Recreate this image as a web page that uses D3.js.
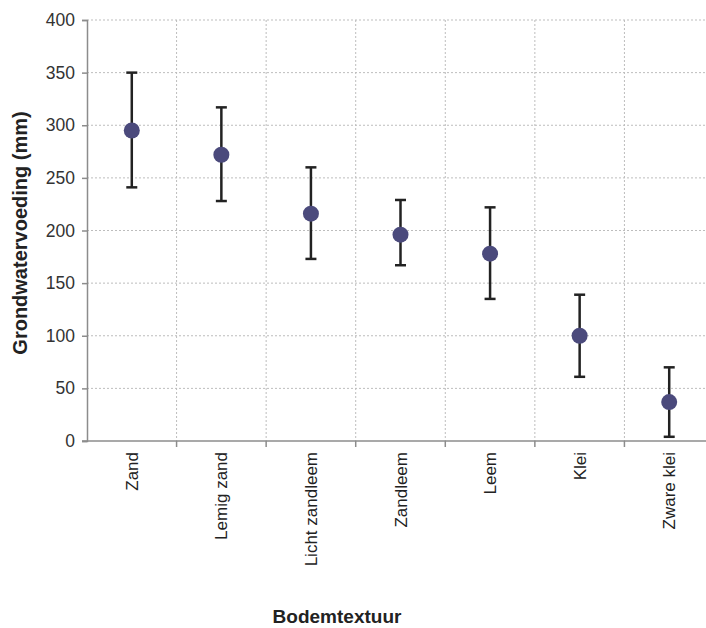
<!DOCTYPE html>
<html>
<head>
<meta charset="utf-8">
<script src="https://cdn.jsdelivr.net/npm/d3@7"></script>
<style>
html,body{margin:0;padding:0;background:#fff;}
svg{display:block;font-family:"Liberation Sans",Arial,sans-serif;}
</style>
</head>
<body>
<svg id="chart" width="706" height="628"></svg>
<script>
const categories = ["Zand","Lemig zand","Licht zandleem","Zandleem","Leem","Klei","Zware klei"];
const means = [295, 272, 216, 196, 178, 100, 37];
const upper = [350, 317, 260, 229, 222, 139, 70];
const lower = [241, 228, 173, 167, 135, 61, 4];
const yTicks = [0, 50, 100, 150, 200, 250, 300, 350, 400];

(function () {
const svg = d3.select("#chart");
const mLeft = 87, mRight = 714, mTop = 20, mBottom = 441;

const x = d3.scaleBand().domain(categories).range([mLeft, mRight]).padding(0);
const y = d3.scaleLinear().domain([0, 400]).range([mBottom, mTop]);

// horizontal grid
svg.append("g").selectAll("line").data(yTicks.filter(d => d > 0)).join("line")
  .attr("x1", mLeft).attr("x2", 706)
  .attr("y1", d => y(d)).attr("y2", d => y(d))
  .attr("stroke", "#bdbdbd").attr("stroke-width", 1).attr("stroke-dasharray", "2,2");

// vertical grid at band boundaries
const bounds = categories.slice(1).map(c => x(c));
svg.append("g").selectAll("line").data(bounds).join("line")
  .attr("x1", d => d).attr("x2", d => d)
  .attr("y1", mTop).attr("y2", mBottom)
  .attr("stroke", "#bdbdbd").attr("stroke-width", 1).attr("stroke-dasharray", "2,2");

// y axis
const yAxis = svg.append("g").attr("transform", `translate(${mLeft},0)`)
  .call(d3.axisLeft(y).tickValues(yTicks).tickSize(5).tickPadding(7));
yAxis.select(".domain").attr("stroke", "#8c8c8c").attr("stroke-width", 1.5);
yAxis.selectAll(".tick line").attr("stroke", "#8c8c8c").attr("stroke-width", 1.5);
yAxis.selectAll(".tick text").attr("font-size", 17.5).attr("fill", "#333")
  .attr("font-family", "'Liberation Sans', Arial, sans-serif");

// x axis line
svg.append("line").attr("x1", mLeft - 5).attr("x2", 706)
  .attr("y1", mBottom).attr("y2", mBottom)
  .attr("stroke", "#8c8c8c").attr("stroke-width", 1.5);
svg.append("g").selectAll("line").data(bounds).join("line")
  .attr("x1", d => d).attr("x2", d => d)
  .attr("y1", mBottom).attr("y2", mBottom + 6)
  .attr("stroke", "#8c8c8c").attr("stroke-width", 1.5);

// x labels
svg.append("g").selectAll("text").data(categories).join("text")
  .attr("transform", d => `translate(${x(d) + x.bandwidth()/2 + 6},${mBottom + 11}) rotate(-90)`)
  .attr("text-anchor", "end")
  .attr("font-size", 17).attr("fill", "#222")
  .text(d => d);

// error bars
const g = svg.append("g");
const capW = 5.5;
categories.forEach((c, i) => {
  const cx = x(c) + x.bandwidth()/2;
  g.append("line").attr("x1", cx).attr("x2", cx)
    .attr("y1", y(upper[i])).attr("y2", y(lower[i]))
    .attr("stroke", "#222").attr("stroke-width", 2.5);
  [upper[i], lower[i]].forEach(v => {
    g.append("line").attr("x1", cx - capW).attr("x2", cx + capW)
      .attr("y1", y(v)).attr("y2", y(v))
      .attr("stroke", "#222").attr("stroke-width", 2.5);
  });
});

// points
svg.append("g").selectAll("circle").data(categories).join("circle")
  .attr("cx", d => x(d) + x.bandwidth()/2)
  .attr("cy", (d, i) => y(means[i]))
  .attr("r", 8)
  .attr("fill", "#4b4a7c");

// axis titles
svg.append("text")
  .attr("transform", "translate(27,233) rotate(-90)")
  .attr("text-anchor", "middle")
  .attr("font-size", 20).attr("font-weight", "bold").attr("fill", "#222")
  .text("Grondwatervoeding (mm)");

svg.append("text")
  .attr("x", 337).attr("y", 623)
  .attr("text-anchor", "middle")
  .attr("font-size", 19).attr("font-weight", "bold").attr("fill", "#222")
  .text("Bodemtextuur");
})();
</script>
</body>
</html>
